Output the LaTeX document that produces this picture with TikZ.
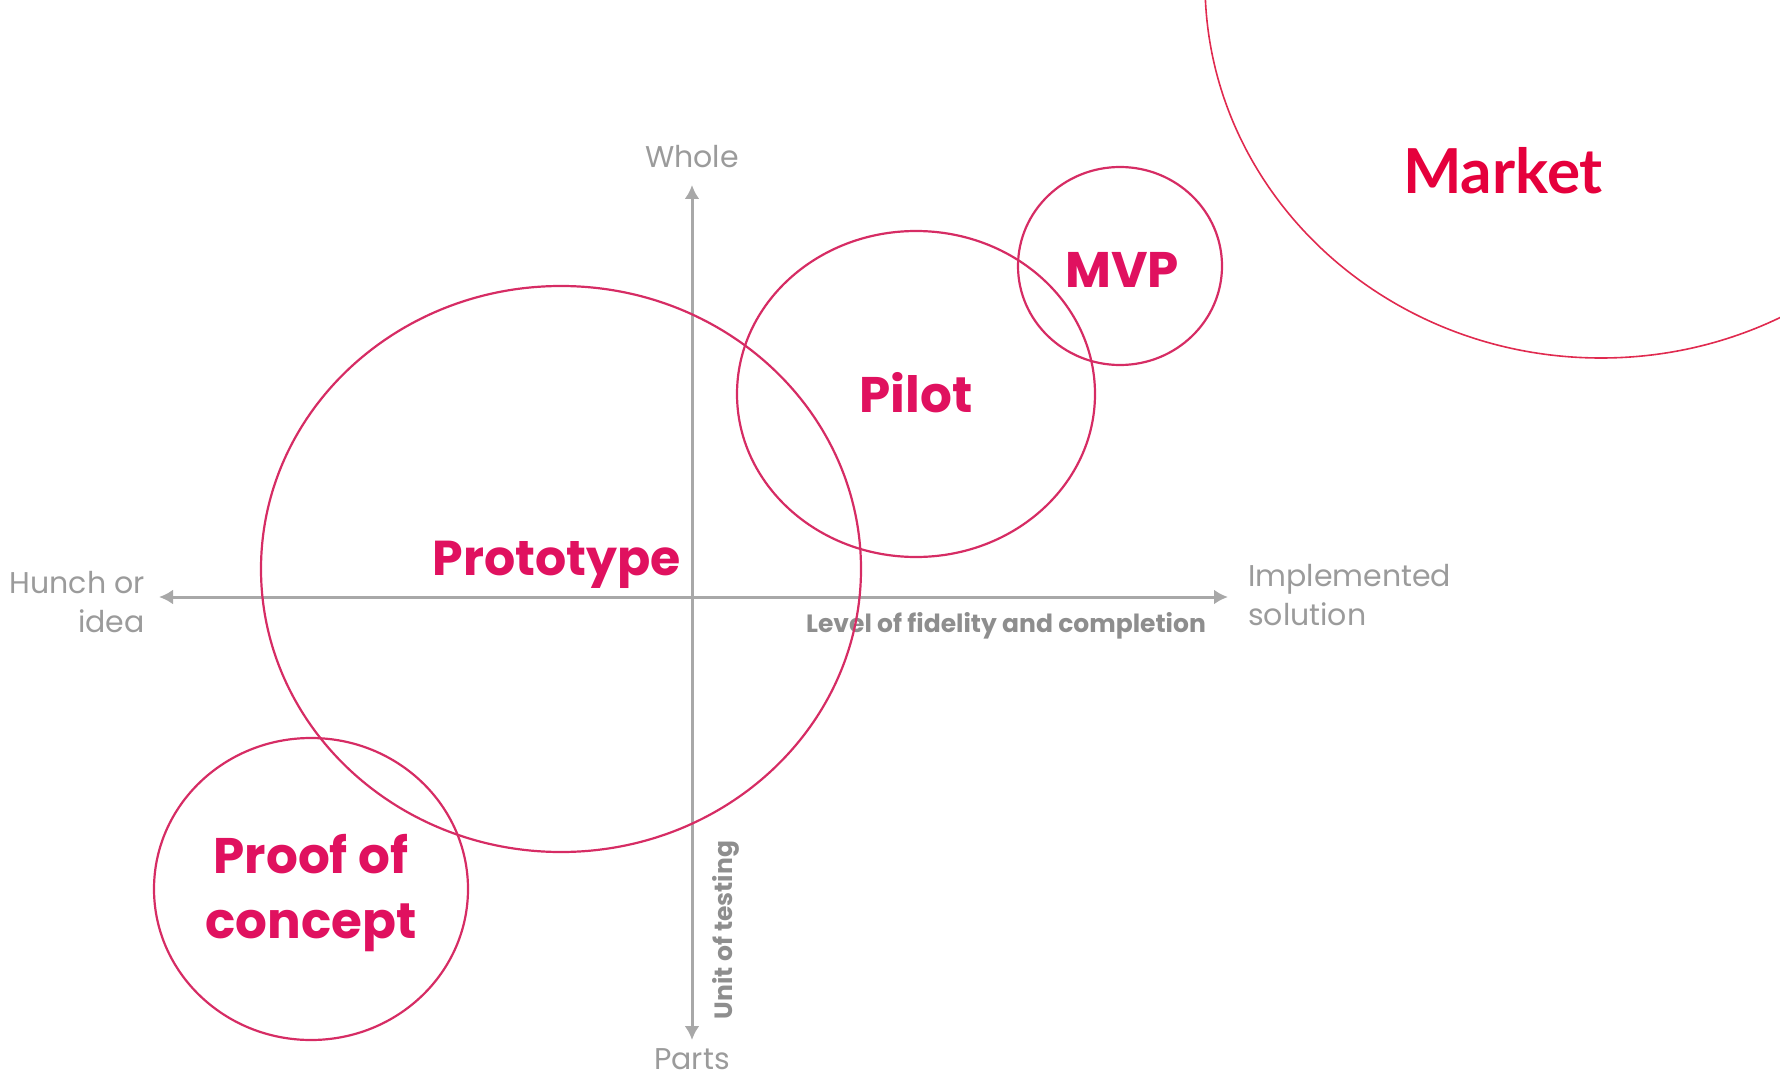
\documentclass[tikz,border=0pt]{standalone}
\usepackage{fontspec}
\setmainfont{Poppins}
\newfontfamily\latofont{Lato}
\usetikzlibrary{arrows.meta}
\definecolor{pinkline}{HTML}{D62C64}
\definecolor{pinktext}{HTML}{E0115F}
\definecolor{marketred}{HTML}{E5003C}
\definecolor{marketline}{HTML}{E02A4F}
\definecolor{axisgray}{HTML}{A8A8A8}
\definecolor{graytext}{HTML}{9B9B9B}
\definecolor{leveltext}{HTML}{8E8E8E}
\begin{document}
\begin{tikzpicture}[x=1pt,y=-1pt,
  axis/.style={draw=axisgray, line width=3pt, {Latex[length=14pt,width=15pt]}-{Latex[length=14pt,width=15pt]}},
  ring/.style={draw=pinkline, line width=2.2pt},
  mring/.style={draw=marketline, line width=1.6pt},
  lbl/.style={text=pinktext, inner sep=0pt},
  glabel/.style={text=graytext, font=\fontsize{30}{39}\selectfont, inner sep=0pt},
  atitle/.style={text=leveltext, font=\fontsize{25}{30}\selectfont\bfseries, inner sep=0pt},
  mlabel/.style={text=marketred, font=\fontsize{62}{72}\selectfont\latofont\bfseries, inner sep=0pt}]
\useasboundingbox (0,0) rectangle (1780,1078);
\clip (0,0) rectangle (1780,1078);
% axes
\coordinate (xl) at (159,597);
\coordinate (xr) at (1228,597);
\coordinate (yt) at (692,185);
\coordinate (yb) at (692,1040);
\draw[axis] (xl) -- (xr);
\draw[axis] (yt) -- (yb);
% axis texts
\node[glabel, anchor=base] (whole) at (692,168) {Whole};
\node[glabel, anchor=base] (parts) at (692,1069) {Parts};
\node[glabel, align=right, anchor=base east] (hunch) at (145,632) {Hunch or\\idea};
\node[glabel, align=left, anchor=base west] (impl) at (1248,625) {Implemented\\solution};
\node[atitle, anchor=base] (level) at (1006,632) {Level of fidelity and completion};
\node[atitle, rotate=90, anchor=base] (unit) at (732,930) {Unit of testing};
% circle centres
\coordinate (cproto) at (561,569);
\coordinate (cpilot) at (916,394);
\coordinate (cmvp) at (1120,266);
\coordinate (cpoc) at (311,889);
\coordinate (cmarket) at (1601,-17);
% circles
\draw[ring] (cproto) ellipse [x radius=300, y radius=283];
\draw[ring] (cpilot) ellipse [x radius=179, y radius=163];
\draw[ring] (cmvp) ellipse [x radius=102, y radius=99];
\draw[ring] (cpoc) ellipse [x radius=157, y radius=151];
\draw[mring] (cmarket) ellipse [x radius=396, y radius=375];
% labels
\node[lbl, font=\fontsize{49}{58}\selectfont\bfseries, anchor=base] (proto) at (557,575) {Prototype};
\node[lbl, font=\fontsize{50}{60}\selectfont\bfseries, anchor=base] (pilot) at (916,412) {Pilot};
\node[lbl, font=\fontsize{50}{60}\selectfont\bfseries, anchor=base] (mvp) at (1122,287) {MVP};
\node[lbl, font=\fontsize{50}{65}\selectfont\bfseries, align=center] (poc) at (311,893) {Proof of\\concept};
\node[mlabel, anchor=base] (market) at (1503,194) {Market};
\end{tikzpicture}
\end{document}
